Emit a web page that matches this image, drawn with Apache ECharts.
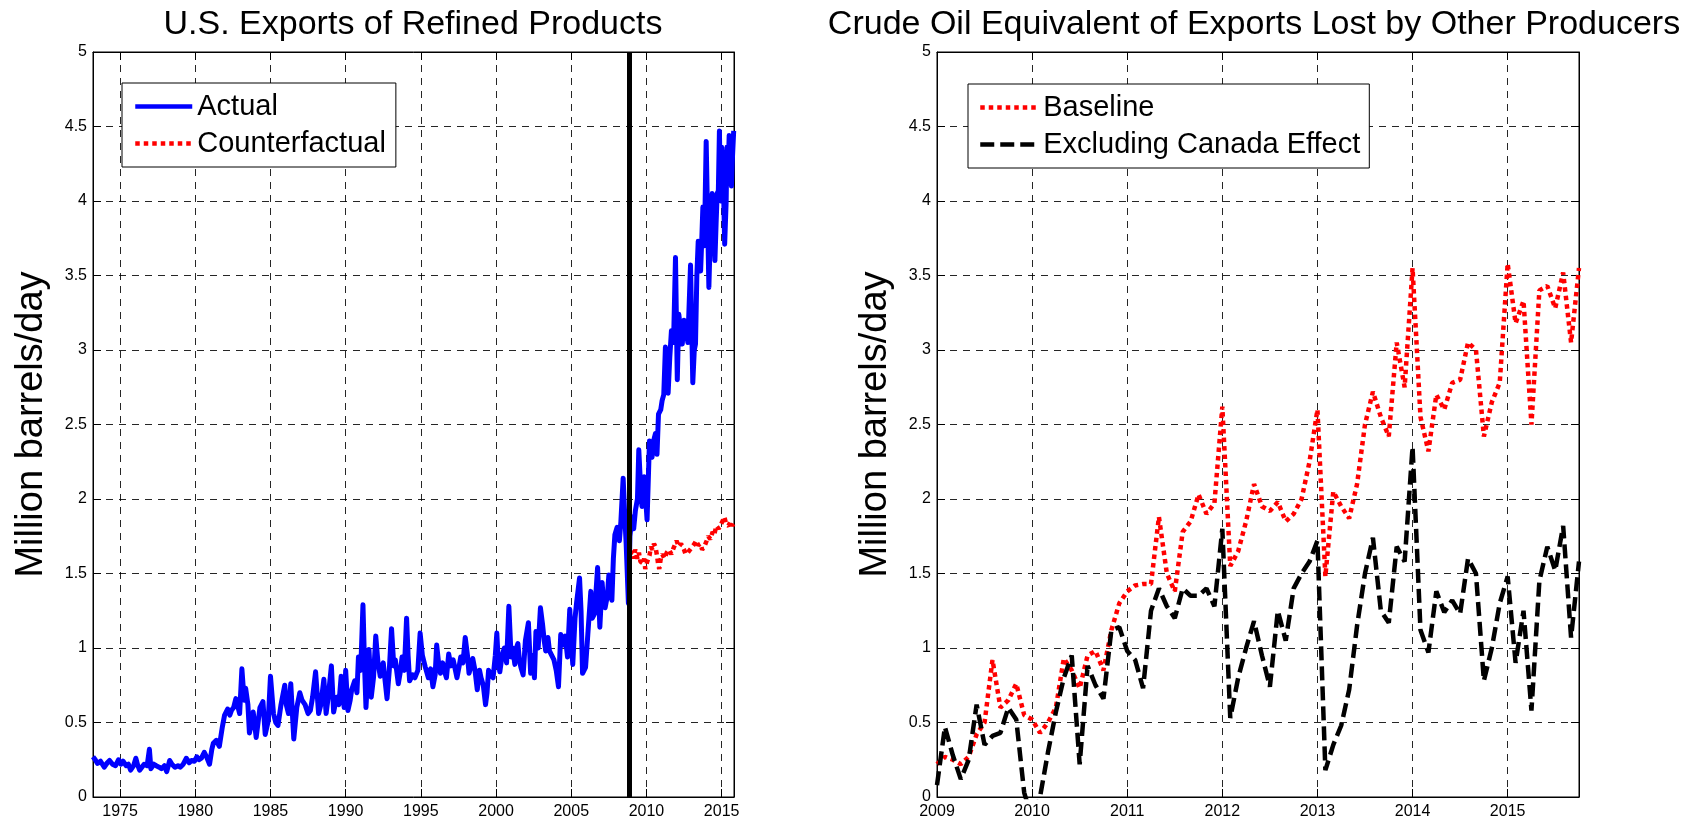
<!DOCTYPE html>
<html><head><meta charset="utf-8">
<script src="https://cdn.jsdelivr.net/npm/echarts@6/dist/echarts.min.js"></script>
<style>html,body{margin:0;padding:0;background:#fff}#c{width:1698px;height:824px}</style>
</head><body><div id="c"></div>
<script>
// ---------- Left panel data (year, million barrels/day) ----------
const actualData = [
[1973.2,0.27],[1973.35,0.25],[1973.5,0.225],[1973.7,0.24],[1973.95,0.20],[1974.15,0.23],[1974.3,0.245],[1974.5,0.22],[1974.7,0.21],[1974.9,0.25],
[1975.05,0.22],[1975.2,0.24],[1975.4,0.21],[1975.55,0.22],[1975.7,0.18],[1975.9,0.21],[1976.05,0.26],[1976.15,0.22],[1976.3,0.18],[1976.45,0.20],
[1976.6,0.22],[1976.8,0.21],[1976.95,0.32],[1977.05,0.19],[1977.25,0.22],[1977.4,0.21],[1977.6,0.20],[1977.75,0.19],[1977.95,0.21],[1978.1,0.17],
[1978.3,0.245],[1978.45,0.22],[1978.65,0.20],[1978.85,0.21],[1979.0,0.20],[1979.2,0.22],[1979.4,0.26],[1979.6,0.23],[1979.75,0.245],[1979.95,0.24],
[1980.1,0.27],[1980.25,0.25],[1980.4,0.26],[1980.6,0.30],[1980.75,0.27],[1980.95,0.22],[1981.1,0.32],[1981.2,0.36],[1981.4,0.38],[1981.6,0.34],
[1981.8,0.47],[1981.95,0.55],[1982.15,0.59],[1982.3,0.55],[1982.4,0.58],[1982.55,0.60],[1982.7,0.66],[1982.85,0.60],[1982.95,0.56],[1983.1,0.86],
[1983.25,0.65],[1983.35,0.73],[1983.5,0.62],[1983.6,0.43],[1983.75,0.50],[1983.85,0.57],[1984.05,0.40],[1984.2,0.52],[1984.3,0.60],[1984.5,0.64],
[1984.65,0.42],[1984.85,0.51],[1985.0,0.81],[1985.2,0.56],[1985.35,0.50],[1985.5,0.48],[1985.7,0.62],[1985.95,0.75],[1986.05,0.62],[1986.2,0.56],
[1986.35,0.76],[1986.55,0.39],[1986.75,0.60],[1986.95,0.70],[1987.1,0.65],[1987.3,0.62],[1987.5,0.56],[1987.65,0.58],[1987.8,0.67],[1988.0,0.84],
[1988.2,0.56],[1988.35,0.62],[1988.55,0.79],[1988.7,0.56],[1988.85,0.68],[1989.05,0.88],[1989.2,0.57],[1989.4,0.67],[1989.55,0.62],[1989.7,0.81],
[1989.9,0.60],[1990.0,0.85],[1990.15,0.58],[1990.3,0.65],[1990.4,0.72],[1990.6,0.78],[1990.75,0.70],[1990.85,0.94],[1991.0,0.85],[1991.15,1.29],
[1991.25,0.90],[1991.35,0.60],[1991.55,0.99],[1991.7,0.67],[1991.85,0.80],[1992.0,1.08],[1992.15,0.90],[1992.3,0.81],[1992.5,0.90],[1992.6,0.80],
[1992.75,0.66],[1992.9,0.85],[1993.05,1.13],[1993.2,0.88],[1993.3,0.92],[1993.5,0.76],[1993.65,0.85],[1993.75,0.94],[1993.9,0.85],[1994.05,1.20],
[1994.15,0.95],[1994.25,0.78],[1994.45,0.82],[1994.6,0.80],[1994.8,0.85],[1994.95,1.10],[1995.1,0.95],[1995.3,0.87],[1995.5,0.80],[1995.65,0.86],
[1995.8,0.74],[1995.95,0.82],[1996.05,1.02],[1996.2,0.88],[1996.3,0.83],[1996.45,0.90],[1996.55,0.85],[1996.7,0.80],[1996.85,0.96],[1997.0,0.88],
[1997.15,0.92],[1997.3,0.85],[1997.4,0.80],[1997.55,0.88],[1997.65,0.94],[1997.8,0.90],[1997.95,1.07],[1998.1,0.95],[1998.2,0.83],[1998.35,0.88],
[1998.45,0.93],[1998.6,0.85],[1998.75,0.72],[1998.9,0.85],[1999.0,0.80],[1999.15,0.75],[1999.3,0.62],[1999.4,0.70],[1999.5,0.85],[1999.65,0.82],
[1999.8,0.80],[1999.95,0.95],[2000.05,1.10],[2000.15,0.90],[2000.25,0.84],[2000.4,0.95],[2000.55,1.00],[2000.7,0.90],[2000.85,1.28],[2001.0,0.94],
[2001.1,1.00],[2001.25,0.89],[2001.35,1.00],[2001.45,1.03],[2001.55,0.92],[2001.65,0.87],[2001.8,0.82],[2001.95,1.05],[2002.15,1.17],[2002.3,0.83],
[2002.45,0.95],[2002.55,0.80],[2002.65,1.11],[2002.8,1.00],[2002.95,1.27],[2003.1,1.15],[2003.2,1.05],[2003.3,0.98],[2003.45,1.07],[2003.55,0.98],
[2003.65,0.96],[2003.85,0.92],[2004.0,0.85],[2004.15,0.74],[2004.3,1.09],[2004.45,1.02],[2004.6,1.08],[2004.75,0.94],[2004.9,1.26],[2005.0,1.05],
[2005.1,0.89],[2005.25,1.20],[2005.35,1.30],[2005.55,1.47],[2005.65,1.25],[2005.75,0.83],[2005.95,0.87],[2006.1,1.09],[2006.3,1.38],[2006.4,1.20],
[2006.55,1.23],[2006.75,1.54],[2006.9,1.14],[2007.05,1.44],[2007.15,1.30],[2007.25,1.27],[2007.4,1.35],[2007.5,1.49],[2007.6,1.38],[2007.7,1.32],
[2007.8,1.60],[2007.9,1.76],[2008.05,1.81],[2008.2,1.72],[2008.3,1.85],[2008.45,2.14],[2008.55,1.90],[2008.65,1.70],[2008.8,1.30],[2008.9,1.75],
[2009.04,1.88],[2009.15,1.80],[2009.26,1.92],[2009.4,2.00],[2009.49,2.33],[2009.6,2.10],[2009.7,1.95],[2009.85,2.15],[2009.95,2.00],[2010.04,1.86],
[2010.2,2.39],[2010.3,2.30],[2010.37,2.28],[2010.5,2.40],[2010.6,2.44],[2010.7,2.30],[2010.8,2.57],[2010.95,2.60],[2011.04,2.66],[2011.15,2.70],
[2011.26,3.02],[2011.35,2.85],[2011.44,2.71],[2011.55,2.95],[2011.66,3.13],[2011.8,3.05],[2011.93,3.62],[2012.05,2.80],[2012.15,3.24],[2012.25,3.15],
[2012.38,3.04],[2012.5,3.20],[2012.6,3.18],[2012.75,3.05],[2012.93,3.57],[2013.08,2.78],[2013.18,3.00],[2013.26,3.04],[2013.35,3.50],[2013.44,3.73],
[2013.6,3.53],[2013.68,3.75],[2013.75,3.96],[2013.85,3.70],[2013.97,4.40],[2014.08,3.80],[2014.15,3.42],[2014.25,3.80],[2014.37,4.05],[2014.47,3.85],
[2014.55,3.60],[2014.63,3.85],[2014.7,4.05],[2014.78,4.07],[2014.85,4.47],[2014.93,4.00],[2015.0,4.36],[2015.1,4.20],[2015.2,3.71],[2015.3,4.00],
[2015.35,4.36],[2015.43,4.20],[2015.5,4.44],[2015.57,4.30],[2015.65,4.10],[2015.72,4.30],[2015.8,4.47]
];
const counterData = [
[2008.92,1.63],[2009.05,1.65],[2009.15,1.60],[2009.25,1.66],[2009.4,1.60],[2009.5,1.64],[2009.6,1.58],[2009.75,1.57],[2009.85,1.60],[2009.92,1.53],
[2010.05,1.58],[2010.2,1.62],[2010.3,1.68],[2010.4,1.66],[2010.5,1.70],[2010.6,1.68],[2010.7,1.62],[2010.78,1.56],[2010.85,1.53],[2010.95,1.60],
[2011.05,1.63],[2011.2,1.60],[2011.35,1.64],[2011.5,1.66],[2011.65,1.63],[2011.8,1.67],[2012.0,1.72],[2012.15,1.68],[2012.3,1.70],[2012.4,1.68],
[2012.5,1.66],[2012.6,1.63],[2012.75,1.64],[2012.9,1.66],[2013.05,1.68],[2013.2,1.70],[2013.3,1.72],[2013.45,1.69],[2013.6,1.70],[2013.7,1.66],
[2013.85,1.68],[2014.0,1.72],[2014.1,1.75],[2014.25,1.73],[2014.4,1.78],[2014.5,1.76],[2014.65,1.82],[2014.8,1.80],[2014.95,1.83],[2015.1,1.86],
[2015.18,1.88],[2015.3,1.83],[2015.45,1.82],[2015.6,1.85],[2015.7,1.82],[2015.82,1.84]
];
const breakYear = 2008.88;
const leftXMin = 1973.2, leftXMax = 2015.82;
const leftTicks = [1975, 1980, 1985, 1990, 1995, 2000, 2005, 2010, 2015];

// ---------- Right panel data (monthly, Jan 2009 - Oct 2015) ----------
const months = [];
for (let y = 2009; y <= 2015; y++) {
  for (let m = 1; m <= 12; m++) {
    if (y === 2015 && m > 10) break;
    months.push(y + '-' + (m < 10 ? '0' + m : m));
  }
}
const baseline = [
0.22,0.27,0.25,0.22,0.27,0.42,0.50,0.92,0.60,0.65,
0.76,0.55,0.52,0.43,0.50,0.60,0.93,0.85,0.73,0.95,
0.98,0.85,1.12,1.30,1.38,1.42,1.43,1.43,1.88,1.50,
1.38,1.78,1.85,2.03,1.90,1.97,2.62,1.55,1.65,1.85,
2.10,1.95,1.92,1.98,1.85,1.90,2.00,2.25,2.60,1.48,
2.05,1.95,1.87,2.10,2.50,2.72,2.55,2.42,3.05,2.75,
3.55,2.55,2.32,2.70,2.60,2.78,2.80,3.05,3.00,2.42,
2.65,2.78,3.58,3.18,3.33,2.50,3.40,3.43,3.28,3.52,
3.05,3.55
];
const exclCanada = [
0.08,0.47,0.28,0.12,0.25,0.62,0.35,0.41,0.43,0.60,
0.52,0.03,-0.15,0.00,0.30,0.57,0.80,0.95,0.22,0.88,
0.75,0.66,1.12,1.14,0.98,0.92,0.73,1.25,1.40,1.28,
1.20,1.40,1.35,1.35,1.40,1.28,1.80,0.53,0.80,1.00,
1.18,0.95,0.74,1.25,1.05,1.40,1.50,1.58,1.72,0.18,
0.35,0.48,0.72,1.15,1.50,1.74,1.25,1.17,1.68,1.58,
2.35,1.12,0.97,1.38,1.24,1.32,1.23,1.60,1.50,0.78,
1.00,1.30,1.48,0.90,1.25,0.58,1.45,1.68,1.52,1.82,
1.07,1.58
];

const FONT = '"Liberation Sans", Arial, Helvetica, sans-serif';
const gridDash = { color: '#000', width: 1, type: [7, 6], opacity: 0.85 };
const tickIn = { show: true, inside: true, length: 8, lineStyle: { color: '#000', width: 1 } };
const axisLineBlack = { show: true, onZero: false, lineStyle: { color: '#000', width: 1 } };
const labelStyle = { color: '#000', fontSize: 16, fontFamily: FONT };

function yAxes(gridIndex) {
  return [
    { type: 'value', gridIndex, position: 'left', min: 0, max: 5, interval: 0.5,
      name: 'Million barrels/day', nameLocation: 'middle', nameGap: 42,
      nameTextStyle: { fontSize: 38, color: '#000', fontFamily: FONT },
      axisLine: axisLineBlack, axisTick: tickIn,
      axisLabel: Object.assign({ margin: 6 }, labelStyle),
      splitLine: { show: true, lineStyle: gridDash } },
    { type: 'value', gridIndex, position: 'right', min: 0, max: 5, interval: 0.5,
      axisLine: axisLineBlack, axisTick: tickIn, axisLabel: { show: false }, splitLine: { show: false } }
  ];
}

const legendCommon = {
  orient: 'vertical', itemHeight: 14, itemGap: 0,
  borderColor: '#000', borderWidth: 1, backgroundColor: '#fff', selectedMode: false,
  itemStyle: { opacity: 0 },
  lineStyle: { width: 4.5 },
  textStyle: { fontSize: 29, color: '#000', fontFamily: FONT, lineHeight: 37 }
};

const option = {
  animation: false,
  backgroundColor: '#fff',
  title: [
    { text: 'U.S. Exports of Refined Products', left: 413, top: 8, textAlign: 'center', padding: 0,
      textStyle: { fontSize: 34, fontWeight: 'normal', color: '#000', fontFamily: FONT } },
    { text: 'Crude Oil Equivalent of Exports Lost by Other Producers', left: 1254, top: 8, textAlign: 'center', padding: 0,
      textStyle: { fontSize: 34, fontWeight: 'normal', color: '#000', fontFamily: FONT } }
  ],
  grid: [
    { left: 93, top: 52, width: 641, height: 745, show: true, borderColor: '#000', borderWidth: 1, containLabel: false },
    { left: 937, top: 52, width: 642, height: 745, show: true, borderColor: '#000', borderWidth: 1, containLabel: false }
  ],
  legend: [
    Object.assign({ data: ['Actual', 'Counterfactual'], left: 122, top: 83,
      padding: [5, 10, 5, 11], itemWidth: 57 }, legendCommon),
    Object.assign({ data: ['Baseline', 'Excluding Canada Effect'], left: 968, top: 84,
      padding: [5, 9, 5, 10], itemWidth: 58 }, legendCommon)
  ],
  xAxis: [
    { type: 'value', gridIndex: 0, position: 'bottom', min: leftXMin, max: leftXMax,
      axisLine: axisLineBlack,
      axisTick: Object.assign({ customValues: leftTicks }, tickIn),
      axisLabel: Object.assign({ customValues: leftTicks, margin: 7, formatter: v => String(v) }, labelStyle),
      splitLine: { show: true, lineStyle: gridDash } },
    { type: 'value', gridIndex: 0, position: 'top', min: leftXMin, max: leftXMax,
      axisLine: axisLineBlack,
      axisTick: Object.assign({ customValues: leftTicks }, tickIn),
      axisLabel: { show: false, customValues: leftTicks }, splitLine: { show: false } },
    { type: 'category', gridIndex: 1, position: 'bottom', data: months, boundaryGap: false,
      axisLine: axisLineBlack,
      axisTick: Object.assign({ interval: 11 }, tickIn),
      axisLabel: Object.assign({ interval: 11, margin: 7, formatter: v => v.slice(0, 4) }, labelStyle),
      splitLine: { show: true, interval: 11, lineStyle: gridDash } },
    { type: 'category', gridIndex: 1, position: 'top', data: months, boundaryGap: false,
      axisLine: axisLineBlack,
      axisTick: Object.assign({ interval: 11 }, tickIn),
      axisLabel: { show: false }, splitLine: { show: false } }
  ],
  yAxis: yAxes(0).concat(yAxes(1)),
  series: [
    { name: 'Actual', type: 'line', xAxisIndex: 0, yAxisIndex: 0, data: actualData,
      symbol: 'none', showSymbol: false, color: '#0000ff',
      lineStyle: { color: '#0000ff', width: 5, join: 'round' },
      markLine: { silent: true, symbol: 'none', label: { show: false },
        lineStyle: { color: '#000', width: 5, type: 'solid' },
        data: [{ xAxis: breakYear }] } },
    { name: 'Counterfactual', type: 'line', xAxisIndex: 0, yAxisIndex: 0, data: counterData,
      symbol: 'none', showSymbol: false, color: '#ff0000',
      lineStyle: { color: '#ff0000', width: 4.5, type: [4.5, 4], cap: 'butt' } },
    { name: 'Baseline', type: 'line', xAxisIndex: 2, yAxisIndex: 2, data: baseline,
      symbol: 'none', showSymbol: false, color: '#ff0000',
      lineStyle: { color: '#ff0000', width: 4.5, type: [4.5, 4], cap: 'butt' } },
    { name: 'Excluding Canada Effect', type: 'line', xAxisIndex: 2, yAxisIndex: 2, data: exclCanada,
      symbol: 'none', showSymbol: false, color: '#000',
      lineStyle: { color: '#000', width: 4.5, type: [14, 6], cap: 'butt' } }
  ]
};
const chart = echarts.init(document.getElementById('c'), null, { renderer: 'canvas' });
chart.setOption(option);
</script>
</body></html>
